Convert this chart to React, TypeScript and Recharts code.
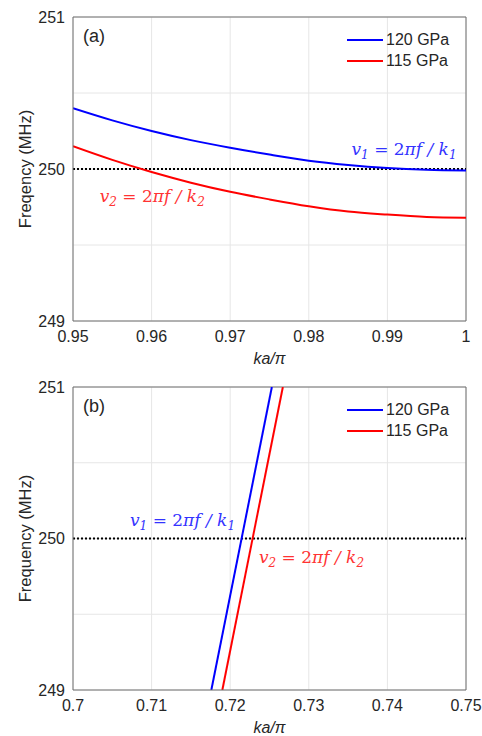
import { LineChart, Line, XAxis, YAxis, CartesianGrid, ReferenceLine, ReferenceDot, Legend, Label } from 'recharts';

// panel (a): dispersion near the zone edge
const kTop = [0.95, 0.955, 0.96, 0.965, 0.97, 0.975, 0.98, 0.985, 0.99, 0.995, 1.0];
const blueTop = [250.4, 250.32, 250.25, 250.19, 250.14, 250.095, 250.055, 250.027, 250.007, 249.995, 249.99];
const redTop = [250.15, 250.06, 249.98, 249.91, 249.85, 249.8, 249.755, 249.72, 249.7, 249.685, 249.68];
const xTicksTop = [0.95, 0.96, 0.97, 0.98, 0.99, 1];

// panel (b): steep branch
const kBlueBottom = [0.7176, 0.7253];
const fBlueBottom = [249, 251];
const kRedBottom = [0.719, 0.7267];
const fRedBottom = [249, 251];
const xTicksBottom = [0.7, 0.71, 0.72, 0.73, 0.74, 0.75];

const yTicks = [249, 249.5, 250, 250.5, 251];
const SERIES = [
  { name: '120 GPa', color: '#0000ff' },
  { name: '115 GPa', color: '#ff0000' },
];

const AXIS = '#262626';
const AXIS_LINE = '#6e6e6e';
const FONT = '"Liberation Sans", Arial, sans-serif';
const tick = { fill: AXIS, fontSize: 16, fontFamily: FONT };

const topData = kTop.map((k, i) => ({ k, blue: blueTop[i], red: redTop[i] }));
const blueBottom = kBlueBottom.map((k, i) => ({ k, blue: fBlueBottom[i] }));
const redBottom = kRedBottom.map((k, i) => ({ k, red: fRedBottom[i] }));

function LegendBox() {
  return (
    <div style={{ fontFamily: FONT, fontSize: 16, color: AXIS }}>
      {SERIES.map((s) => (
        <div key={s.name} style={{ display: 'flex', alignItems: 'center', height: 21 }}>
          <svg width={36} height={4}>
            <line x1={0} y1={2} x2={36} y2={2} stroke={s.color} strokeWidth={2} />
          </svg>
          <span style={{ marginLeft: 3 }}>{s.name}</span>
        </div>
      ))}
    </div>
  );
}

// v_n = 2πf / k_n
function mathNote(n: number, color: string, anchor: 'start' | 'end') {
  return (props: any) => {
    const vb = props.viewBox || {};
    return (
      <text x={vb.x} y={vb.y} fill={color} fontFamily='"DejaVu Serif", serif' fontStyle="italic" fontSize={17} textAnchor={anchor}>
        v<tspan fontSize={12} dy={4}>{n}</tspan>
        <tspan dy={-4} fontStyle="normal"> = 2</tspan>
        <tspan>πf / k</tspan>
        <tspan fontSize={12} dy={4}>{n}</tspan>
      </text>
    );
  };
}

function panelTag(text: string) {
  return (props: any) => {
    const vb = props.viewBox || {};
    return (
      <text x={vb.x + 10} y={vb.y + 25} fill={AXIS} fontFamily={FONT} fontSize={18}>
        {text}
      </text>
    );
  };
}

function xLabel(props: any) {
  const vb = props.viewBox || {};
  return (
    <text x={vb.x + vb.width / 2} y={vb.y + 43} fill={AXIS} fontFamily={FONT} fontSize={16} fontStyle="italic" textAnchor="middle">
      ka/π
    </text>
  );
}

function yLabel(text: string) {
  return (props: any) => {
    const vb = props.viewBox || {};
    const cx = 25;
    const cy = vb.y + vb.height / 2;
    return (
      <text x={cx} y={cy} fill={AXIS} fontFamily={FONT} fontSize={16.5} textAnchor="middle" dominantBaseline="central" transform={`rotate(-90, ${cx}, ${cy})`}>
        {text}
      </text>
    );
  };
}

const fmtX = (v: number) => String(Number(v.toFixed(3)));
const fmtY = (v: number) => (Number.isInteger(v) ? String(v) : '');

export default function App() {
  return (
    <div style={{ position: 'absolute', left: 0, top: 0, width: 482, height: 736, background: '#fff' }}>
      <LineChart width={482} height={368} data={topData} margin={{ top: 17, right: 16, left: 0, bottom: 5 }}>
        <CartesianGrid stroke="#e6e6e6" />
        <XAxis dataKey="k" type="number" domain={[0.95, 1]} ticks={xTicksTop} tickFormatter={fmtX} tick={tick} stroke={AXIS_LINE} tickLine={false} tickMargin={4} height={42} allowDataOverflow>
          <Label content={xLabel} />
        </XAxis>
        <YAxis type="number" domain={[249, 251]} ticks={yTicks} tickFormatter={fmtY} tick={tick} stroke={AXIS_LINE} tickLine={false} width={73} allowDataOverflow interval={0}>
          <Label content={yLabel('Freqency (MHz)')} />
        </YAxis>
        <ReferenceLine y={251} stroke={AXIS_LINE} />
        <ReferenceLine x={1} stroke={AXIS_LINE} />
        <ReferenceLine y={250} stroke="#000" strokeWidth={2} strokeDasharray="2 2" />
        <Line dataKey="blue" name={SERIES[0].name} stroke={SERIES[0].color} strokeWidth={2} dot={false} type="monotone" isAnimationActive={false} />
        <Line dataKey="red" name={SERIES[1].name} stroke={SERIES[1].color} strokeWidth={2} dot={false} type="monotone" isAnimationActive={false} />
        <ReferenceDot x={0.95} y={251} r={0} fill="none" stroke="none" label={panelTag('(a)')} />
        <ReferenceDot x={0.9988} y={250.092} r={0} fill="none" stroke="none" label={mathNote(1, '#3333ff', 'end')} />
        <ReferenceDot x={0.9534} y={249.783} r={0} fill="none" stroke="none" label={mathNote(2, '#ff3333', 'start')} />
        <Legend layout="horizontal" verticalAlign="middle" content={() => <LegendBox />} wrapperStyle={{ top: 29, left: 347, width: 'auto', height: 'auto' }} />
      </LineChart>

      <LineChart width={482} height={368} margin={{ top: 19, right: 16, left: 0, bottom: 4 }}>
        <CartesianGrid stroke="#e6e6e6" />
        <XAxis dataKey="k" type="number" domain={[0.7, 0.75]} ticks={xTicksBottom} tickFormatter={fmtX} tick={tick} stroke={AXIS_LINE} tickLine={false} tickMargin={4} height={42} allowDataOverflow>
          <Label content={xLabel} />
        </XAxis>
        <YAxis type="number" domain={[249, 251]} ticks={yTicks} tickFormatter={fmtY} tick={tick} stroke={AXIS_LINE} tickLine={false} width={73} allowDataOverflow interval={0}>
          <Label content={yLabel('Frequency (MHz)')} />
        </YAxis>
        <ReferenceLine y={251} stroke={AXIS_LINE} />
        <ReferenceLine x={0.75} stroke={AXIS_LINE} />
        <ReferenceLine y={250} stroke="#000" strokeWidth={2} strokeDasharray="2 2" />
        <Line data={blueBottom} dataKey="blue" name={SERIES[0].name} stroke={SERIES[0].color} strokeWidth={2} dot={false} type="linear" isAnimationActive={false} />
        <Line data={redBottom} dataKey="red" name={SERIES[1].name} stroke={SERIES[1].color} strokeWidth={2} dot={false} type="linear" isAnimationActive={false} />
        <ReferenceDot x={0.7} y={251} r={0} fill="none" stroke="none" label={panelTag('(b)')} />
        <ReferenceDot x={0.70725} y={250.081} r={0} fill="none" stroke="none" label={mathNote(1, '#3333ff', 'start')} />
        <ReferenceDot x={0.72366} y={249.84} r={0} fill="none" stroke="none" label={mathNote(2, '#ff3333', 'start')} />
        <Legend layout="horizontal" verticalAlign="middle" content={() => <LegendBox />} wrapperStyle={{ top: 31, left: 347, width: 'auto', height: 'auto' }} />
      </LineChart>
    </div>
  );
}
